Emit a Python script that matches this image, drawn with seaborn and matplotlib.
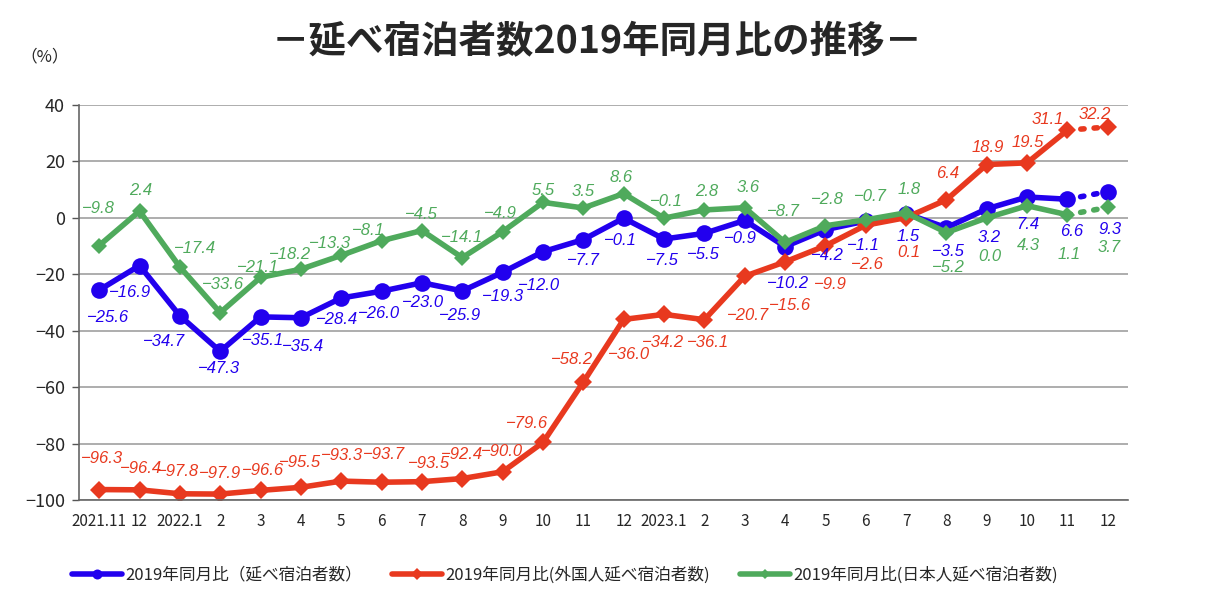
import numpy as np
import pandas as pd
import seaborn as sns
import matplotlib.pyplot as plt
from matplotlib.lines import Line2D
from matplotlib.ticker import FixedLocator

# ----------------------------
# Data
# ----------------------------
months = ["2021.11", "12", "2022.1", "2", "3", "4", "5", "6", "7", "8", "9", "10", "11",
          "12", "2023.1", "2", "3", "4", "5", "6", "7", "8", "9", "10", "11", "12"]

total = [-25.6, -16.9, -34.7, -47.3, -35.1, -35.4, -28.4, -26.0, -23.0, -25.9, -19.3, -12.0, -7.7,
         -0.1, -7.5, -5.5, -0.9, -10.2, -4.2, -1.1, 1.5, -3.5, 3.2, 7.4, 6.6, 9.3]
foreign = [-96.3, -96.4, -97.8, -97.9, -96.6, -95.5, -93.3, -93.7, -93.5, -92.4, -90.0, -79.6, -58.2,
           -36.0, -34.2, -36.1, -20.7, -15.6, -9.9, -2.6, 0.1, 6.4, 18.9, 19.5, 31.1, 32.2]
japanese = [-9.8, 2.4, -17.4, -33.6, -21.1, -18.2, -13.3, -8.1, -4.5, -14.1, -4.9, 5.5, 3.5,
            8.6, -0.1, 2.8, 3.6, -8.7, -2.8, -0.7, 1.8, -5.2, 0.0, 4.3, 1.1, 3.7]

names = ["2019年同月比（延べ宿泊者数）",
         "2019年同月比(外国人延べ宿泊者数)",
         "2019年同月比(日本人延べ宿泊者数)"]

# ----------------------------
# Style
# ----------------------------
sns.set_theme(style="white")
plt.rcParams["font.family"] = ["Noto Sans CJK JP", "DejaVu Sans"]
plt.rcParams["axes.unicode_minus"] = True

BLUE = "#2200EE"
RED = "#E8391F"
GREEN = "#4FAA5C"

# label offsets in pixels (dx, dy)
off_total = [(9, -27), (-10, -27), (-16, -26), (-1, -17), (2, -24), (2, -29), (-4, -22), (-3, -22),
             (1, -20), (-2, -25), (0, -24), (-4, -34), (0, -21), (-3, -22), (-2, -21), (-1, -21),
             (-4, -18), (3, -37), (2, -26), (-2, -25), (2, -23), (2, -24), (2, -29), (1, -28),
             (4, -32), (2, -38)]
off_foreign = [(3, 31), (1, 21), (-2, 22), (0, 21), (2, 20), (-1, 25), (1, 26), (2, 28), (7, 18),
               (0, 24), (-1, 20), (-16, 19), (-11, 23), (5, -35), (-1, -28), (4, -23), (3, -39),
               (5, -44), (5, -39), (2, -39), (3, -35), (1, 26), (1, 17), (1, 20), (-20, 11), (-13, 13)]
off_japanese = [(-1, 37), (1, 21), (15, 18), (3, 28), (-3, 10), (-11, 15), (-11, 12), (-13, 10),
                (-1, 16), (0, 20), (-2, 18), (0, 12), (0, 16), (-3, 16), (2, 17), (2, 18), (3, 20),
                (-2, 31), (2, 26), (5, 23), (3, 23), (2, -35), (3, -39), (1, -40), (2, -40), (1, -40)]

series = [
    (total, BLUE, "o", 12, off_total),
    (foreign, RED, "D", 9.5, off_foreign),
    (japanese, GREEN, "D", 8, off_japanese),
]

fig = plt.figure(figsize=(12.2, 6), dpi=100)
ax = fig.add_axes([79 / 1220, 100 / 600, (1128 - 79) / 1220, 395 / 600])

x = np.arange(len(months))
handles = []
for vals, color, mk, ms, offs in series:
    df = pd.DataFrame({"x": x, "y": vals})
    solid = df.iloc[:-1]
    tail = df.iloc[-2:]
    sns.lineplot(data=solid, x="x", y="y", color=color, linewidth=4, marker=mk,
                 markersize=ms, markeredgewidth=0, ax=ax)
    ax.plot(tail["x"], tail["y"], color=color, linewidth=4, linestyle=(0, (0.6, 1.8)),
            dash_capstyle="round")
    ax.plot(tail["x"].iloc[-1:], tail["y"].iloc[-1:], color=color, marker=mk,
            markersize=ms, markeredgewidth=0, linestyle="none")
    for xi, v, (dx, dy) in zip(x, vals, offs):
        ax.annotate(f"{v:.1f}".replace("-", "\u2212"), (xi, v), xytext=(dx, dy),
                    textcoords="offset pixels", ha="center", va="center",
                    color=color, fontsize=12, style="italic",
                    family=["Liberation Sans", "DejaVu Sans"])
    handles.append(Line2D([], [], color=color, linewidth=4, marker=mk,
                          markersize=ms * 0.6, markeredgewidth=0))

ax.set_xlim(-0.5, len(months) - 0.5)
ax.set_ylim(-100, 40)
ax.set_yticks(range(-100, 41, 20))
ax.yaxis.grid(True, color="#A0A0A0", linewidth=1.2)
ax.set_axisbelow(True)
ax.set_xticks(x)
ax.set_xticklabels(months, fontsize=11)
ax.xaxis.set_minor_locator(FixedLocator(np.arange(-0.5, len(months), 1)))
ax.tick_params(axis="x", which="major", length=0, pad=9)
ax.tick_params(axis="x", which="minor", direction="in", length=5, color="#555555", width=1)
ax.tick_params(axis="y", direction="out", length=5, color="#555555", width=1,
               labelsize=13, pad=5, left=True)
ax.set_xlabel("")
ax.set_ylabel("")
for side in ["top", "right"]:
    ax.spines[side].set_visible(False)
for side in ["left", "bottom"]:
    ax.spines[side].set_color("#666666")
    ax.spines[side].set_linewidth(1.2)

fig.text(597 / 1220, 1 - 42 / 600, "－延べ宿泊者数2019年同月比の推移－", ha="center", va="center",
         fontsize=27, fontweight="bold")
fig.text(45 / 1220, 1 - 57 / 600, "（%）", ha="center", va="center", fontsize=12)

ax.legend(handles, names, loc="center", bbox_to_anchor=(0.463, -0.19), ncol=3,
          frameon=False, fontsize=12, handlelength=3.0, columnspacing=1.8, handletextpad=0.2)

fig.savefig("out.png", dpi=100)
